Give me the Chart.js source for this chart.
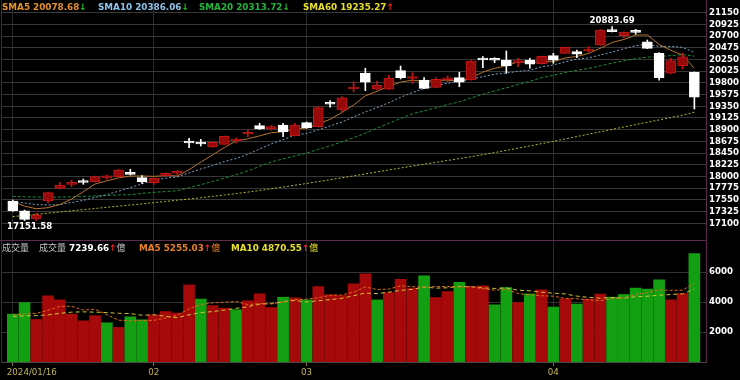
<!DOCTYPE html>
<html>
<head>
<meta charset="utf-8">
<script src="https://cdn.jsdelivr.net/npm/chart.js@4.4.1/dist/chart.umd.min.js"></script>
<style>
  html, body { margin: 0; padding: 0; background: #000; }
  #wrap { position: relative; width: 740px; height: 380px; overflow: hidden; background: #000; }
  canvas { position: absolute; left: 0; }
  #priceChart { top: 0; }
  #volChart { top: 240px; }
  .row { position: absolute; white-space: nowrap; font-family: "DejaVu Sans", sans-serif; font-weight: bold; font-size: 8.8px; line-height: 12px; z-index: 2; }
  .cjk { font-family: "Noto Sans CJK TC", sans-serif; font-weight: normal; font-size: 9px; color: #c4c4c4; }
  .line { position: absolute; z-index: 2; }
</style>
</head>
<body>
<div id="wrap">
  <canvas id="priceChart" width="740" height="240"></canvas>
  <canvas id="volChart" width="740" height="140"></canvas>
  <div class="line" style="left:1px;top:0;width:1px;height:363px;background:#4e2040"></div>
  <div class="line" style="left:0;top:240px;width:706px;height:1px;background:#5e2a4c"></div>
  <div id="legend"></div>
</div>
<script>
// trading days
const dates = [
  "2024/01/16","2024/01/17","2024/01/18","2024/01/19","2024/01/22","2024/01/23","2024/01/24","2024/01/25","2024/01/26","2024/01/29",
  "2024/01/30","2024/01/31","2024/02/01","2024/02/02","2024/02/05","2024/02/15","2024/02/16","2024/02/19","2024/02/20","2024/02/21",
  "2024/02/22","2024/02/23","2024/02/26","2024/02/27","2024/02/29","2024/03/01","2024/03/04","2024/03/05","2024/03/06","2024/03/07",
  "2024/03/08","2024/03/11","2024/03/12","2024/03/13","2024/03/14","2024/03/15","2024/03/18","2024/03/19","2024/03/20","2024/03/21",
  "2024/03/22","2024/03/25","2024/03/26","2024/03/27","2024/03/28","2024/03/29","2024/04/01","2024/04/02","2024/04/03","2024/04/08",
  "2024/04/09","2024/04/10","2024/04/11","2024/04/12","2024/04/15","2024/04/16","2024/04/17","2024/04/18","2024/04/19"
];

const opens = [17529,17342,17185,17529,17773,17850,17905,17900,17975,17996,18081,17977,17880,18016,18062,18664,18650,18567,18619,18683,
  18812,18977,18914,18990,18785,19035,18958,19408,19279,19683,19985,19677,19677,20035,19885,19856,19715,19860,19900,19856,
  20250,20254,20240,20189,20240,20169,20323,20369,20400,20413,20529,20798,20708,20790,20592,20369,19985,20131,20004];
const highs = [17548,17355,17292,17702,17889,17933,17952,18010,18029,18135,18139,18016,17971,18074,18112,18735,18715,18669,18779,18746,
  18894,19023,18985,19023,19023,19048,19337,19458,19535,19823,20081,19837,19946,20125,19996,19900,19900,19933,20004,20227,
  20304,20285,20413,20273,20273,20317,20369,20490,20433,20496,20823,20883.69,20780,20831,20625,20381,20273,20369,20010];
const lows = [17330,17151.58,17155,17490,17760,17804,17850,17894,17946,17990,18029,17869,17850,18010,18029,18554,18587,18558,18612,18639,
  18766,18904,18889,18766,18779,18927,18952,19331,19235,19631,19650,19669,19669,19875,19792,19689,19708,19823,19727,19850,
  20092,20189,19985,20112,20081,20163,20177,20362,20285,20388,20523,20779,20669,20735,20458,19850,19977,20067,19298];
const closes = [17342,17175,17260,17689,17837,17870,17885,18000,17990,18125,18042,17894,17965,18062,18087,18644,18625,18658,18773,18715,
  18850,18914,18958,18862,18990,18933,19323,19389,19515,19715,19812,19760,19890,19900,19905,19696,19870,19890,19812,20221,
  20240,20235,20131,20208,20158,20312,20235,20485,20350,20446,20817,20785,20775,20770,20465,19900,20227,20301,19527];
const prevClose = 17514;

const sma5 = [17520,17430,17380,17400,17461,17566,17708,17856,17916,17974,18008,18010,18003,18018,18010,18130,18277,18415,18557,18683,
  18724,18782,18842,18860,18915,18931,19013,19099,19230,19375,19551,19638,19738,19815,19853,19830,19852,19852,19835,19898,
  20007,20080,20128,20207,20194,20209,20209,20280,20308,20366,20467,20577,20635,20719,20722,20539,20427,20333,20078.68];
const sma10 = [17515,17490,17460,17452,17460,17500,17540,17600,17650,17718,17787,17859,17930,17967,17992,18069,18144,18209,18288,18347,
  18427,18530,18629,18709,18799,18828,18898,18971,19045,19145,19241,19326,19419,19523,19614,19691,19745,19795,19825,19876,
  19919,19966,19990,20021,20046,20108,20145,20204,20258,20280,20338,20393,20458,20514,20544,20503,20502,20484,20386.06];
const sma20 = [17615,17612,17605,17600,17605,17610,17615,17625,17635,17645,17651,17675,17695,17710,17726,17785,17842,17905,17969,18032,
  18107,18195,18280,18338,18396,18449,18521,18590,18667,18746,18834,18928,19024,19116,19207,19260,19322,19383,19435,19511,
  19580,19646,19705,19772,19830,19900,19945,20000,20042,20078,20129,20180,20224,20268,20295,20306,20324,20344,20313.72];
const sma60 = [17230,17250,17272,17295,17318,17340,17363,17385,17408,17430,17452,17473,17497,17520,17544,17568,17592,17618,17644,17670,
  17700,17732,17765,17798,17832,17866,17902,17938,17975,18012,18050,18088,18125,18163,18200,18236,18272,18308,18345,18382,
  18420,18460,18502,18545,18588,18632,18676,18722,18768,18814,18860,18906,18952,18998,19044,19088,19132,19180,19235.27];

const volumes = [3200,3970,2840,4420,4150,3200,2750,3090,2620,2310,3020,2820,3150,3370,3270,5150,4200,3770,3600,3490,
  4090,4550,3640,4330,4290,4150,5040,4490,4440,5220,5890,4150,4640,5530,4930,5750,4310,4710,5330,5040,
  5090,3820,4970,3970,4550,4820,3670,4220,3870,4200,4530,4330,4510,4930,4870,5490,4150,4570,7239.66];
const volMa5 = [3150,3200,3250,3450,3717,3717,3473,3523,3163,2793,2757,2771,2784,2935,3127,3553,3829,3953,3999,4043,
  3829,3900,3873,4020,4180,4193,4291,4460,4481,4668,5015,4837,4868,5087,5029,5002,5033,5047,5007,5028,
  4895,4797,4851,4579,4481,4428,4397,4247,4225,4155,4097,4231,4288,4501,4635,4825,4789,4803,5255.03];
const volMa10 = [3050,3080,3100,3150,3250,3330,3350,3330,3300,3255,3237,3122,3154,3049,2960,3155,3300,3369,3467,3585,
  3691,3865,3913,4010,4112,4011,4096,4167,4251,4424,4604,4564,4664,4784,4849,5009,4935,4958,5047,5029,
  4949,4915,4949,4793,4755,4662,4597,4549,4402,4318,4263,4314,4268,4363,4395,4461,4510,4546,4870.55];

const priceTicks = [21150,20925,20700,20475,20250,20025,19800,19575,19350,19125,18900,18675,18450,18225,18000,17775,17550,17325,17100];
const volTicks = [2000,4000,6000];

// month starts for the x axis
const monthStarts = dates
  .map((d, i) => (i === 0 || d.slice(5, 7) !== dates[i - 1].slice(5, 7)) ? i : -1)
  .filter(i => i >= 0);

const idx = closes.map((_, i) => i);
const isUp = idx.map(i => closes[i] >= opens[i]);
const volUp = idx.map(i => closes[i] >= (i === 0 ? prevClose : closes[i - 1]));

const RED_BODY = "#980a0a", RED_EDGE = "#c21818", WHITE = "#ffffff";
const X_MIN = -0.92, X_MAX = 58.99;
const tickFont = { family: "DejaVu Sans", size: 8.6, weight: "bold" };

const pts = arr => arr.map((v, i) => ({ x: i, y: v }));
const maLine = (label, data, color, dash) => ({
  type: "line", label, data: pts(data), borderColor: color, borderWidth: 1,
  borderDash: dash, pointRadius: 0, tension: 0, order: 3
});

const xScale = (height, grid) => ({
  type: "linear", min: X_MIN, max: X_MAX, offset: false, bounds: "data",
  grid: Object.assign({ color: "#2a2a2a", offset: false }, grid),
  ticks: { display: false },
  afterBuildTicks: s => { s.ticks = monthStarts.map(v => ({ value: v })); },
  afterFit: s => { s.height = height; s.paddingLeft = 0; s.paddingRight = 0; }
});

const yScale = (min, max, ticks, gridColor) => ({
  type: "linear", position: "right", min, max, bounds: "data",
  grid: { color: gridColor, drawTicks: false },
  border: { display: true, color: "#5e2a4c" },
  ticks: { color: "#ffffff", font: tickFont, padding: 3, autoSkip: false, callback: v => String(v) },
  afterBuildTicks: s => { s.ticks = ticks.map(v => ({ value: v })); },
  afterFit: s => { s.width = 34; s.paddingTop = 0; s.paddingBottom = 0; }
});

// price labels at the extremes
const extremeLabels = {
  id: "extremeLabels",
  afterDatasetsDraw(chart) {
    const { ctx, scales: { x, y } } = chart;
    const lo = Math.min(...lows), hi = Math.max(...highs);
    const iLo = lows.indexOf(lo), iHi = highs.indexOf(hi);
    ctx.save();
    ctx.font = 'bold 8.6px "DejaVu Sans"';
    ctx.fillStyle = "#ffffff";
    ctx.textAlign = "center";
    ctx.textBaseline = "top";
    ctx.fillText(lo.toFixed(2), x.getPixelForValue(iLo) + 5, y.getPixelForValue(lo) + 2);
    ctx.textBaseline = "bottom";
    ctx.fillText(hi.toFixed(2), x.getPixelForValue(iHi), y.getPixelForValue(hi) - 1);
    ctx.restore();
  }
};

const monthLabels = {
  id: "monthLabels",
  afterDraw(chart) {
    const { ctx, scales: { x }, chartArea } = chart;
    ctx.save();
    ctx.font = '8.7px "DejaVu Sans"';
    ctx.fillStyle = "#c2b65a";
    ctx.textBaseline = "middle";
    monthStarts.forEach((i, k) => {
      const px = x.getPixelForValue(i);
      ctx.textAlign = k === 0 ? "left" : "center";
      ctx.fillText(k === 0 ? dates[i] : dates[i].slice(5, 7), k === 0 ? px - 6 : px, chartArea.bottom + 11);
    });
    ctx.restore();
  }
};

new Chart(document.getElementById("priceChart"), {
  type: "bar",
  data: {
    datasets: [
      maLine("SMA5", sma5, "#b47430", []),
      maLine("SMA10", sma10, "#7ea4c4", [2, 2]),
      maLine("SMA20", sma20, "#1e8e3a", [3, 2]),
      maLine("SMA60", sma60, "#bcb52a", [2, 2]),
      {
        label: "wick", data: idx.map(i => ({ x: i, y: [lows[i], highs[i]] })),
        backgroundColor: isUp.map(u => u ? RED_EDGE : WHITE),
        barThickness: 1, grouped: false, order: 2
      },
      {
        label: "body",
        data: idx.map(i => ({ x: i, y: [Math.min(opens[i], closes[i]), Math.max(opens[i], closes[i])] })),
        backgroundColor: isUp.map(u => u ? RED_BODY : WHITE),
        borderColor: isUp.map(u => u ? RED_EDGE : WHITE),
        borderWidth: 1, borderSkipped: false, barThickness: 10, minBarLength: 2,
        grouped: false, order: 1
      }
    ]
  },
  options: {
    responsive: false, animation: false, events: [], devicePixelRatio: 1,
    layout: { padding: { left: 2, right: 0, top: 0, bottom: 0 } },
    plugins: { legend: { display: false }, tooltip: { enabled: false } },
    scales: {
      x: Object.assign(xScale(0, { drawTicks: false }), { border: { display: false } }),
      y: yScale(16779, 21394, priceTicks, "#383838")
    }
  },
  plugins: [extremeLabels]
});

new Chart(document.getElementById("volChart"), {
  type: "bar",
  data: {
    datasets: [
      { type: "line", label: "MA5", data: pts(volMa5), borderColor: "#e06a1c", borderWidth: 1, borderDash: [3, 2], pointRadius: 0, order: 0 },
      { type: "line", label: "MA10", data: pts(volMa10), borderColor: "#cfc63a", borderWidth: 1, borderDash: [4, 3], pointRadius: 0, order: 0 },
      {
        label: "成交量", data: pts(volumes),
        backgroundColor: volUp.map(u => u ? "#a60909" : "#12a012"),
        barThickness: 11, grouped: false, order: 1
      }
    ]
  },
  options: {
    responsive: false, animation: false, events: [], devicePixelRatio: 1,
    layout: { padding: { left: 2, right: 0, top: 0, bottom: 0 } },
    plugins: { legend: { display: false }, tooltip: { enabled: false } },
    scales: {
      x: Object.assign(xScale(18, { drawTicks: true, tickLength: 4, tickColor: "#8a8040" }),
        { border: { display: true, color: "#4a4a4a" } }),
      y: yScale(0, 8150, volTicks, "#333333")
    }
  },
  plugins: [monthLabels]
});

// legends (real text)
const last = a => a[a.length - 1];
const prev = a => a[a.length - 2];
const arrow = a => last(a) >= prev(a)
  ? '<span style="color:#ff2020">↑</span>'
  : '<span style="color:#22c022">↓</span>';
const legend = document.getElementById("legend");
const addRow = (x, y, html) => {
  const d = document.createElement("div");
  d.className = "row";
  d.style.left = x + "px";
  d.style.top = y + "px";
  d.innerHTML = html;
  legend.appendChild(d);
};
addRow(2, 1, '<span style="color:#e8922a">SMA5 ' + last(sma5).toFixed(2) + '</span>' + arrow(sma5));
addRow(98, 1, '<span style="color:#8ec3ea">SMA10 ' + last(sma10).toFixed(2) + '</span>' + arrow(sma10));
addRow(199, 1, '<span style="color:#22b43a">SMA20 ' + last(sma20).toFixed(2) + '</span>' + arrow(sma20));
addRow(303, 1, '<span style="color:#e8df2a">SMA60 ' + last(sma60).toFixed(2) + '</span>' + arrow(sma60));

addRow(2, 242, '<span class="cjk">成交量</span>');
addRow(39, 242, '<span class="cjk">成交量</span> <span style="color:#fff">' + last(volumes).toFixed(2) + '</span>' + arrow(volumes) + '<span class="cjk">億</span>');
addRow(139, 242, '<span style="color:#e8802a">MA5 ' + last(volMa5).toFixed(2) + '</span>' + arrow(volMa5) + '<span class="cjk" style="color:#e8802a">億</span>');
addRow(231, 242, '<span style="color:#e6e02a">MA10 ' + last(volMa10).toFixed(2) + '</span>' + arrow(volMa10) + '<span class="cjk" style="color:#e6e02a">億</span>');
</script>
</body>
</html>
